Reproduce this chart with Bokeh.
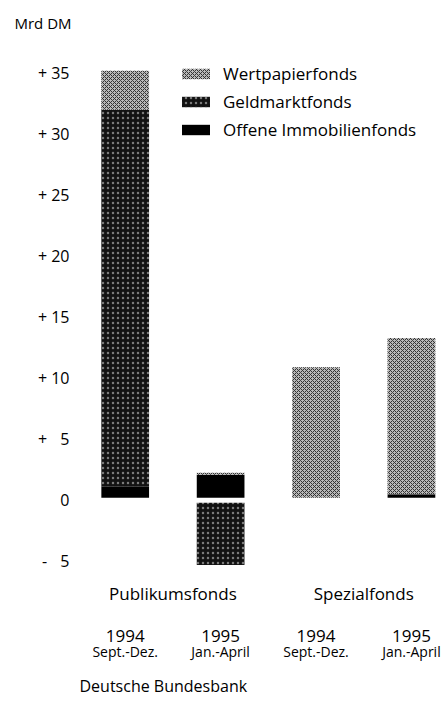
import numpy as np
from bokeh.plotting import figure
from bokeh.models import (Range1d, LinearAxis, FixedTicker, Legend, LegendItem,
                          Span, Title)
from bokeh.embed import file_html
from bokeh.resources import INLINE

# ---- data (Mrd DM) ----
groups = ["Publikumsfonds", "Spezialfonds"]
years = ["1994", "1995", "1994", "1995"]
periods = ["Sept.-Dez.", "Jan.-April", "Sept.-Dez.", "Jan.-April"]
series_names = ["Offene Immobilienfonds", "Geldmarktfonds", "Wertpapierfonds"]
immobilien = [1.1, 2.1, 0.0, 0.5]
geldmarkt = [30.9, -5.3, 0.0, 0.0]
wertpapier = [3.2, 0.15, 10.9, 12.8]
y_ticks = [-5, 0, 5, 10, 15, 20, 25, 30, 35]

FONT = "Open Sans"
x = np.arange(1, len(years) + 1)

p = figure(frame_width=366, frame_height=510, output_backend="svg",
           toolbar_location=None, x_range=Range1d(0.5, 4.336),
           y_range=Range1d(-6.0, 35.8), x_axis_location=None,
           min_border_left=77, min_border_right=0, min_border_top=63,
           min_border_bottom=0, outline_line_color=None)
p.grid.visible = False
p.title.text = ""

# spacer + unit label above the axis
p.add_layout(Title(text=" ", standoff=15, text_font=FONT, text_font_size="10px"), "above")
p.add_layout(Title(text="Mrd DM", align="left", offset=-63, standoff=0, text_font=FONT,
                   text_font_size="15px", text_font_style="normal", text_color="black"),
             "above")

# stacked bars (positive up, negative down)
styles = {
    "Offene Immobilienfonds": dict(fill_color="black"),
    "Geldmarktfonds": dict(fill_color="#121212", hatch_pattern=".", hatch_color="#7a7a7a",
                           hatch_scale=5, hatch_weight=1),
    "Wertpapierfonds": dict(fill_color="#b8b8b8", hatch_pattern="x", hatch_color="#333333",
                            hatch_scale=4, hatch_weight=1),
}
pos = np.zeros(len(x))
neg = np.zeros(len(x))
renderers = {}
for name, vals in zip(series_names, [immobilien, geldmarkt, wertpapier]):
    v = np.array(vals, dtype=float)
    bottom = np.where(v >= 0, pos, neg + v)
    top = np.where(v >= 0, pos + v, neg)
    pos = pos + np.clip(v, 0, None)
    neg = neg + np.clip(v, None, 0)
    renderers[name] = p.vbar(x=x, bottom=bottom, top=top, width=0.5,
                             line_color=None, **styles[name])

p.add_layout(Span(location=0, dimension="width", line_color="white", line_width=5))

legend = Legend(items=[LegendItem(label=n, renderers=[renderers[n]])
                       for n in ["Wertpapierfonds", "Geldmarktfonds", "Offene Immobilienfonds"]],
                location=(101, 432), glyph_width=35, glyph_height=13,
                label_standoff=10, spacing=5, padding=0, margin=0,
                label_height=20, border_line_color=None, background_fill_alpha=0,
                label_text_font=FONT, label_text_font_size="17px",
                label_text_color="black")
p.add_layout(legend)

# y axis
def ylab(t):
    if t > 0:
        return "+ " + ("\u2007" if t < 10 else "") + str(t)
    if t < 0:
        return "- " + ("\u2007" if -t < 10 else "") + str(-t)
    return "0"

ya = p.yaxis[0]
ya.ticker = FixedTicker(ticks=y_ticks)
ya.major_label_overrides = {t: ylab(t) for t in y_ticks}
ya.axis_line_color = None
ya.major_tick_line_color = None
ya.minor_tick_line_color = None
ya.major_label_standoff = 2
ya.major_label_text_font = FONT
ya.major_label_text_font_size = "16px"
ya.major_label_text_color = "black"

def make_axis(ticks, labels, size, standoff):
    ax = LinearAxis(ticker=FixedTicker(ticks=list(ticks)),
                    major_label_overrides={float(t): l for t, l in zip(ticks, labels)})
    ax.axis_line_color = None
    ax.major_tick_line_color = None
    ax.minor_tick_line_color = None
    ax.major_label_standoff = standoff
    ax.major_label_text_font = FONT
    ax.major_label_text_font_size = size
    ax.major_label_text_color = "black"
    return ax

group_pos = [1.5, 3.5]
p.add_layout(make_axis(group_pos, groups, "17px", 2), "below")
p.add_layout(make_axis(x, years, "17px", 16), "below")
p.add_layout(make_axis(x, periods, "14px", -9), "below")

p.add_layout(Title(text="Deutsche Bundesbank", align="left", offset=2, standoff=19,
                   text_font=FONT, text_font_size="16px", text_font_style="normal",
                   text_color="black"),
             "below")

open("out.html", "w").write(file_html(p, INLINE))
